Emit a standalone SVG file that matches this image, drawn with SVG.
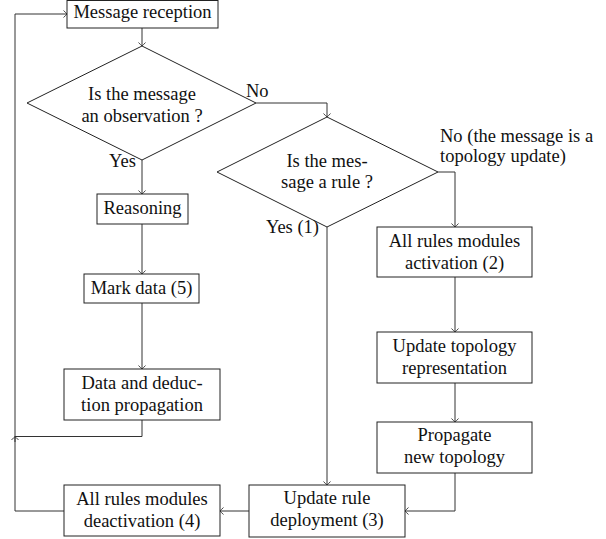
<svg xmlns="http://www.w3.org/2000/svg" width="606" height="539" viewBox="0 0 606 539">
<style>
.box{fill:#fff;stroke:#222;stroke-width:1}
.t{font-family:"Liberation Serif","Times New Roman",serif;font-size:18.5px;fill:#111;text-anchor:middle}
.l{font-family:"Liberation Serif","Times New Roman",serif;font-size:18.5px;fill:#111}
.c{fill:none;stroke:#333;stroke-width:1}
</style>
<defs>
<marker id="ah" markerWidth="10" markerHeight="10" refX="0" refY="0" viewBox="-5 -5 10 10" orient="auto" markerUnits="userSpaceOnUse">
<path d="M-3.5,-3.5 Q-0.8,-1 0,0 Q-0.8,1 -3.5,3.5" fill="none" stroke="#333" stroke-width="0.9"/>
</marker>
</defs>
<g id="connectors">
<path class="c" d="M142,28 V46" marker-end="url(#ah)"/>
<path class="c" d="M256,103 H327 V117" marker-end="url(#ah)"/>
<path class="c" d="M142,160 V194" marker-end="url(#ah)"/>
<path class="c" d="M142,224 V274" marker-end="url(#ah)"/>
<path class="c" d="M142,303 V369" marker-end="url(#ah)"/>
<path class="c" d="M142,420 V436.5 H15"/>
<path class="c" d="M15,442 V436.5" marker-end="url(#ah)"/>
<path class="c" d="M64,511 H15 V14 H67" marker-end="url(#ah)"/>
<path class="c" d="M438,172 H455 V227" marker-end="url(#ah)"/>
<path class="c" d="M327,227 V485" marker-end="url(#ah)"/>
<path class="c" d="M455,277 V332" marker-end="url(#ah)"/>
<path class="c" d="M455,383 V422" marker-end="url(#ah)"/>
<path class="c" d="M455,473 V511 H405" marker-end="url(#ah)"/>
<path class="c" d="M249,511 H220" marker-end="url(#ah)"/>
</g>
<g id="msg"><rect class="box" x="67" y="0.5" width="151" height="27.5"/><text class="t" x="142.5" y="18">Message reception</text></g>
<g id="d1"><polygon class="box" points="142,46 256,103 142,160 27,103"/><text class="t" x="142" y="100">Is the message</text><text class="t" x="142" y="122">an observation ?</text></g>
<g id="reasoning"><rect class="box" x="97" y="194" width="91" height="30"/><text class="t" x="142.5" y="214">Reasoning</text></g>
<g id="mark"><rect class="box" x="84" y="274" width="115" height="29"/><text class="t" x="141.5" y="294">Mark data (5)</text></g>
<g id="datap"><rect class="box" x="64" y="369" width="156" height="51"/><text class="t" x="142" y="389">Data and deduc-</text><text class="t" x="142" y="411">tion propagation</text></g>
<g id="d2"><polygon class="box" points="327,117 438,172 327,227 217,172"/><text class="t" x="327" y="167">Is the mes-</text><text class="t" x="327" y="188">sage a rule ?</text></g>
<g id="act"><rect class="box" x="377" y="227" width="155" height="50"/><text class="t" x="454.5" y="247">All rules modules</text><text class="t" x="454.5" y="269">activation (2)</text></g>
<g id="updtopo"><rect class="box" x="377" y="332" width="155" height="51"/><text class="t" x="454.5" y="352">Update topology</text><text class="t" x="454.5" y="374">representation</text></g>
<g id="prop"><rect class="box" x="377" y="422" width="155" height="51"/><text class="t" x="454.5" y="441">Propagate</text><text class="t" x="454.5" y="463">new topology</text></g>
<g id="updrule"><rect class="box" x="249" y="485" width="156" height="52"/><text class="t" x="327" y="504">Update rule</text><text class="t" x="327" y="526">deployment (3)</text></g>
<g id="deact"><rect class="box" x="64" y="485" width="156" height="51"/><text class="t" x="142" y="505">All rules modules</text><text class="t" x="142" y="527">deactivation (4)</text></g>
<g id="labels">
<text class="l" x="246" y="97">No</text>
<text class="l" x="136" y="167" text-anchor="end">Yes</text>
<text class="l" x="440" y="142">No (the message is a</text>
<text class="l" x="440" y="162">topology update)</text>
<text class="l" x="319" y="233" text-anchor="end">Yes (1)</text>
</g>
</svg>
